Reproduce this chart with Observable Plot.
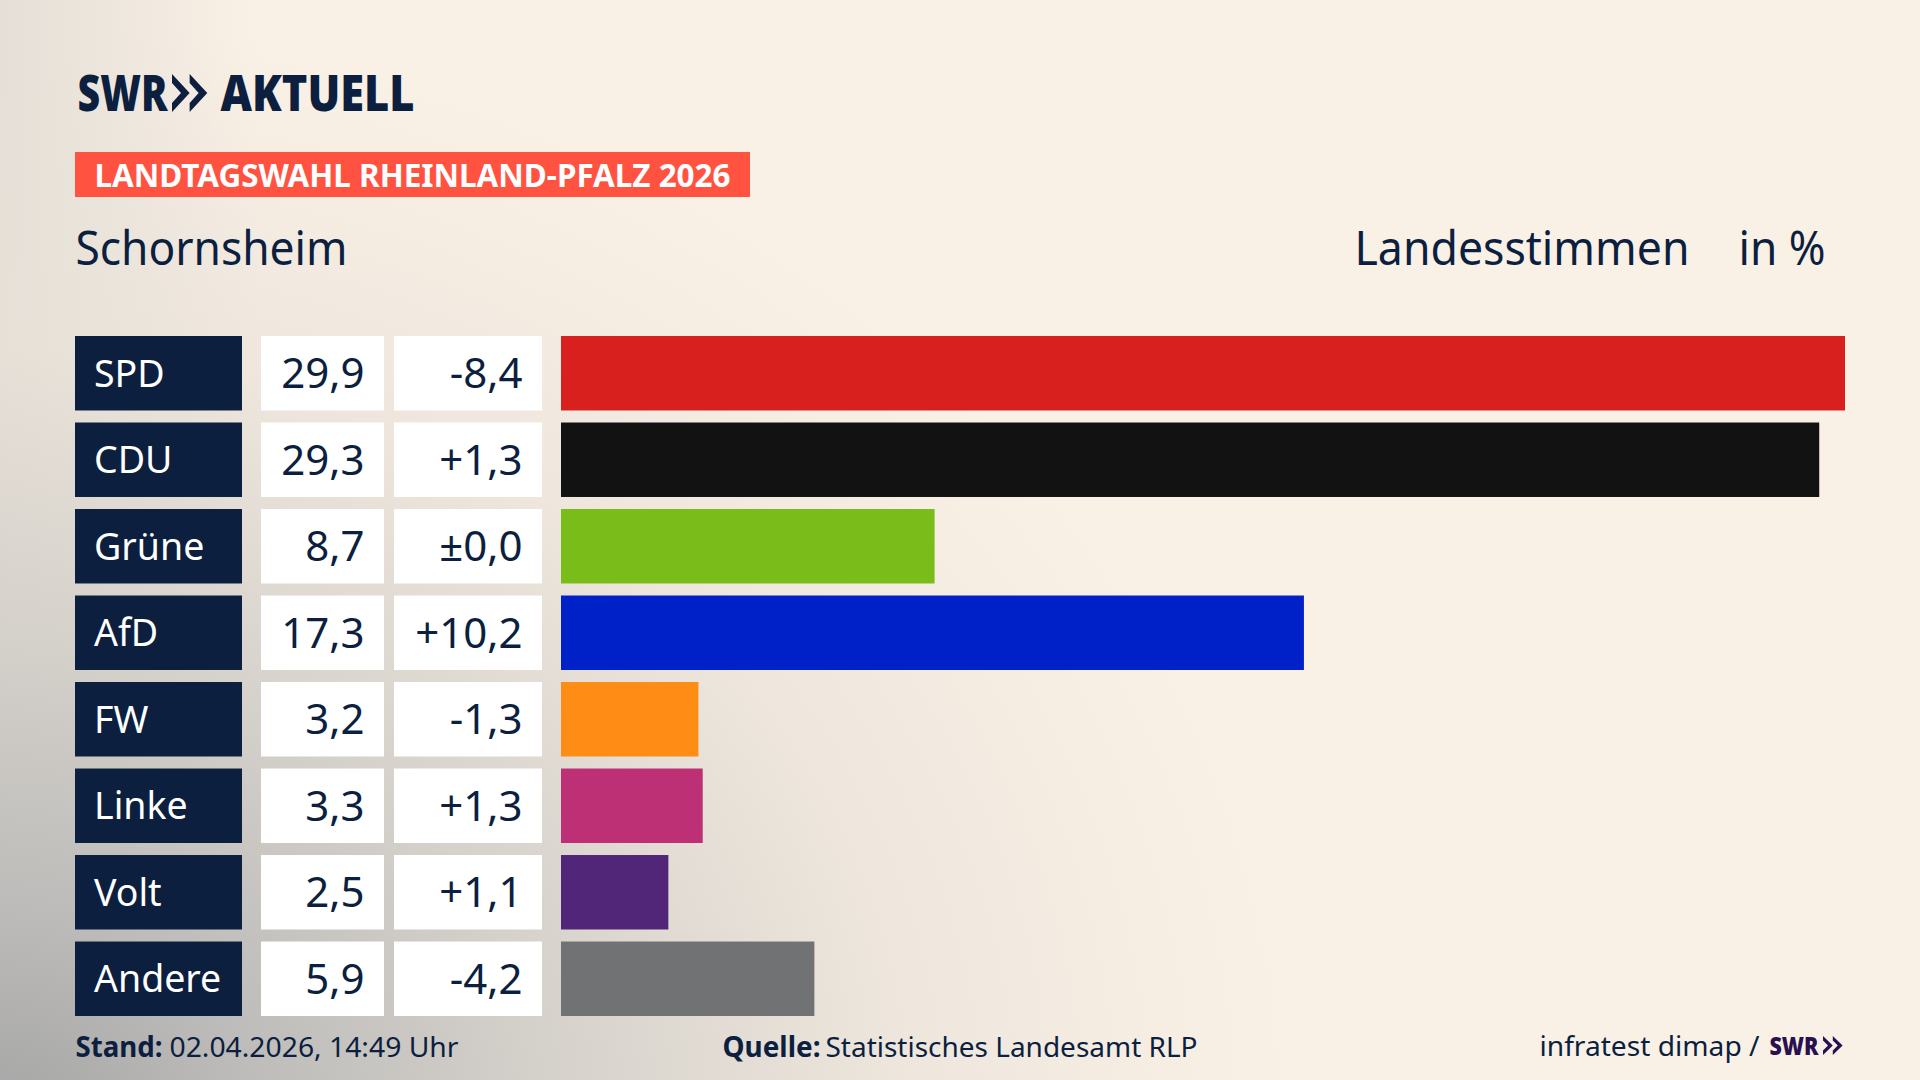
<!DOCTYPE html>
<html lang="de"><head><meta charset="utf-8">
<script src="https://cdn.jsdelivr.net/npm/d3@7"></script>
<script src="https://cdn.jsdelivr.net/npm/@observablehq/plot@0.6"></script>
<style>
html,body{margin:0;padding:0;width:1920px;height:1080px;overflow:hidden;
background:
 radial-gradient(ellipse 1300px 1100px at 0px 1120px, rgba(165,165,165,1) 0%, rgba(188,187,185,.97) 20%, rgba(212,208,202,.9) 45%, rgba(232,225,216,.65) 70%, rgba(250,241,230,0) 100%),
 linear-gradient(90deg, #e5dfd7 0px, #faf1e6 260px);
background-color:#faf1e6}
#c svg{display:block;position:absolute;left:0;top:0}
</style></head><body><div id="c"></div>
<script>
const parties = ["SPD","CDU","Grüne","AfD","FW","Linke","Volt","Andere"];
const shares  = [29.9,29.3,8.7,17.3,3.2,3.3,2.5,5.9];
const changes = ["-8,4","+1,3","±0,0","+10,2","-1,3","+1,3","+1,1","-4,2"];
const colors  = ["#d8201e","#121212","#7abd1b","#0021c8","#ff8c14","#bd3075","#512577","#717274"];
const rows = parties.map((party,i)=>({party,share:shares[i],change:changes[i],color:colors[i]}));

const NAVY="#0c1f3f", PURPLE="#2a1050", FONT="'Noto Sans'";
const SVGNS="http://www.w3.org/2000/svg";
const unit=(1845-561)/29.9;
const px=p=>(p-561)/unit;           // page pixel -> x-scale value
const cell=(a,b,fill)=>Plot.barX(rows,{x1:()=>px(a),x2:()=>px(b),y:"party",fill});
const colText=(xp,text,fill,anchor,size)=>Plot.text(rows,{x:()=>px(xp),y:"party",dy:1,text,fill,textAnchor:anchor,fontSize:size,fontFamily:FONT});
// page label: fitted to the width measured in the reference
const label=(t,x,y,w,o={})=>Plot.text([t],{text:d=>d,frameAnchor:"top-left",dx:x,dy:y,lineAnchor:"bottom",fill:NAVY,fontFamily:FONT,...o,
  render:(i,s,v,d,c,next)=>{const g=next(i,s,v,d,c);const t=g.querySelector("text");
    t.setAttribute("textLength",w);t.setAttribute("lengthAdjust","spacingAndGlyphs");return g;}});
const tagBox=()=>{const r=document.createElementNS(SVGNS,"rect");
  r.setAttribute("x",75);r.setAttribute("y",152);r.setAttribute("width",675);r.setAttribute("height",45);r.setAttribute("fill","#ff5240");return r;};
const chevrons=(x,top,w,h,fill)=>()=>{const p=document.createElementNS(SVGNS,"path");
  const a=w*0.49,n=w*0.25,m=h/2,k=h*0.24,step=w*0.49;
  const one=o=>`M${x+o},${top}L${x+o+a},${top+m}L${x+o},${top+h}L${x+o},${top+h-k}L${x+o+n},${top+m}L${x+o},${top+k}Z`;
  p.setAttribute("d",one(0)+one(step));p.setAttribute("fill",fill);return p;};

const plot=Plot.plot({
  width:1920,height:1080,margin:0,
  style:{background:"transparent",overflow:"visible"},
  x:{type:"linear",domain:[px(0),px(1920)],range:[0,1920],axis:null},
  y:{type:"band",domain:parties,range:[336,1016],round:false,paddingInner:0.139,paddingOuter:0,axis:null},
  marks:[
    tagBox,
    label("SWR",77,110,90,{fontSize:49,fontWeight:900}),
    chevrons(172,74,36,38,NAVY),
    label("AKTUELL",220,110,194,{fontSize:49,fontWeight:900}),
    label("LANDTAGSWAHL RHEINLAND-PFALZ 2026",94,186,636,{fontSize:33,fontWeight:700,fill:"#fff"}),
    label("Schornsheim",75,264,272,{fontSize:47}),
    label("Landesstimmen",1354,264,335,{fontSize:47}),
    label("in %",1738,264,87,{fontSize:47}),
    cell(75,242,NAVY),
    cell(261,384,"#fff"),
    cell(394,542,"#fff"),
    Plot.barX(rows,{x1:()=>0,x2:"share",y:"party",fill:"color"}),
    colText(93.5,"party","#fff","start",37.5),
    colText(364,d=>d.share.toFixed(1).replace(".",","),NAVY,"end",42),
    colText(522,"change",NAVY,"end",42),
    label("Stand:",75,1056,87,{fontSize:28,fontWeight:700}),
    label("02.04.2026, 14:49 Uhr",169,1056,289,{fontSize:28}),
    label("Quelle:",722,1056,98,{fontSize:28,fontWeight:700}),
    label("Statistisches Landesamt RLP",825,1056,372,{fontSize:28}),
    label("infratest dimap /",1539,1055,220,{fontSize:28}),
    label("SWR",1769,1054,49,{fontSize:24,fontWeight:900,fill:PURPLE}),
    chevrons(1823,1036,20,19,PURPLE)
  ]
});
document.getElementById("c").append(plot);
</script></body></html>
